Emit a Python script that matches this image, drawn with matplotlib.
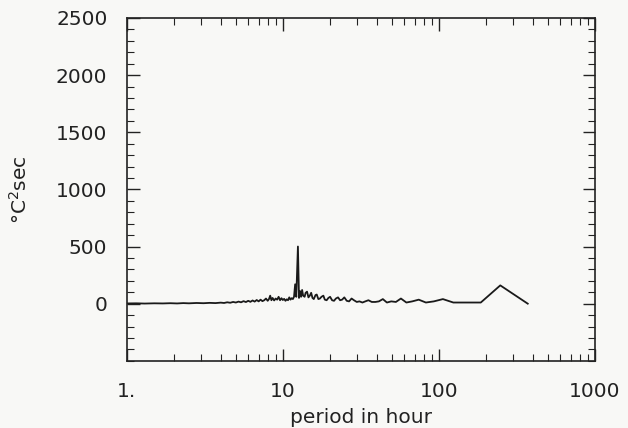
import matplotlib
matplotlib.use("Agg")
import matplotlib.pyplot as plt
from matplotlib.ticker import FixedLocator, MultipleLocator, NullFormatter

# --- данные: период (ч) и спектральная плотность (°C^2 sec) ---
period = [
    1.0, 1.15, 1.3, 1.5, 1.7, 1.9, 2.1, 2.3, 2.5, 2.8, 3.1, 3.4, 3.7, 4.0,
    4.2, 4.4, 4.6, 4.8, 5.0, 5.2, 5.4, 5.6, 5.8, 6.0,
    6.2, 6.4, 6.6, 6.8, 7.0, 7.2, 7.4, 7.6, 7.8, 8.0,
    8.15, 8.3, 8.45, 8.6, 8.8, 9.0, 9.2, 9.4, 9.6, 9.8,
    10.0, 10.2, 10.4, 10.6, 10.8, 11.0, 11.2, 11.4, 11.6, 11.8,
    12.0, 12.2, 12.5, 12.7, 12.9, 13.1, 13.3, 13.5, 13.8, 14.0,
    14.3, 14.6, 14.9, 15.2, 15.5, 15.8, 16.2, 16.5, 16.9, 17.3,
    17.7, 18.2, 18.6, 19.1, 19.6, 20.1, 20.7, 21.3, 21.9, 22.6,
    23.3, 24.0, 24.8, 25.7, 26.6, 27.6, 28.6, 29.8, 31.0, 32.4,
    33.8, 35.4, 37.2, 39.2, 41.3, 43.8, 46.5, 49.6, 53.1, 57.2,
    62.0, 67.6, 74.4, 82.7, 93.0, 106.3, 124.0, 148.8, 186.0, 248.0,
    372.0,
]
power = [
    2, 3, 1, 3, 2, 4, 2, 5, 3, 6, 4, 7, 5, 9,
    6, 12, 8, 15, 10, 18, 12, 22, 14, 25,
    16, 28, 18, 32, 20, 35, 22, 30, 45, 25,
    40, 70, 30, 50, 28, 45, 35, 60, 30, 48,
    32, 42, 25, 38, 30, 55, 35, 48, 40, 60,
    170, 60, 500, 50, 110, 60, 120, 70, 60, 95,
    105, 55, 70, 95, 50, 40, 75, 80, 40, 45,
    60, 70, 35, 30, 50, 60, 30, 25, 45, 55,
    30, 35, 55, 25, 20, 45, 30, 15, 20, 10,
    20, 30, 15, 15, 20, 40, 10, 20, 15, 45,
    10, 20, 35, 10, 20, 40, 10, 10, 10, 160,
    0,
]

x_ticks = [1, 10, 100, 1000]
x_labels = ["1.", "10", "100", "1000"]
y_ticks = [0, 500, 1000, 1500, 2000, 2500]

plt.rcParams["font.family"] = ["DejaVu Sans"]
text_color = "#222222"
bg = "#f8f8f6"

fig = plt.figure(figsize=(6.28, 4.28), dpi=100, facecolor=bg)
ax = fig.add_axes([0.202, 0.157, 0.745, 0.801])
ax.set_facecolor(bg)

ax.plot(period, power, color="#1a1a1a", linewidth=1.3)

ax.set_xscale("log")
ax.set_xlim(1, 1000)
ax.set_ylim(-500, 2500)

ax.xaxis.set_major_locator(FixedLocator(x_ticks))
ax.set_xticklabels(x_labels)
ax.xaxis.set_minor_formatter(NullFormatter())
ax.set_yticks(y_ticks)
ax.yaxis.set_minor_locator(MultipleLocator(100))

ax.tick_params(which="both", direction="in", top=True, right=True,
               colors="#222222", labelcolor=text_color, labelsize=14.5)
ax.tick_params(which="major", length=9, width=1.0)
ax.tick_params(which="minor", length=5, width=0.8)
ax.tick_params(axis="x", which="major", pad=15)
ax.tick_params(axis="y", which="major", pad=14)

for s in ax.spines.values():
    s.set_linewidth(1.2)
    s.set_color("#222222")

ax.set_xlabel("period in hour", fontsize=14.5, color=text_color, labelpad=5)
ax.set_ylabel("°C$^2$sec", fontsize=14.5, color=text_color, labelpad=18)

fig.savefig("out.png", dpi=100, facecolor=fig.get_facecolor())
